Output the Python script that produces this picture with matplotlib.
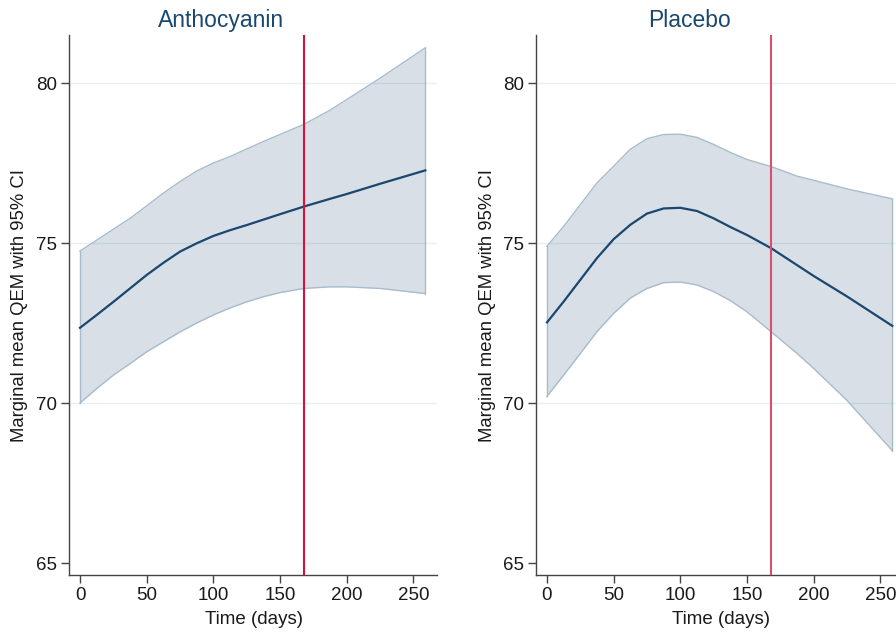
import matplotlib
matplotlib.use('Agg')
import matplotlib.pyplot as plt

plt.rcParams['font.family'] = ['Liberation Sans', 'DejaVu Sans']

days = [0, 12.5, 25, 37.5, 50, 62.5, 75, 87.5, 100, 112.5, 125, 137.5, 150, 168, 187.5, 200, 225, 259]

antho_mean = [72.35, 72.75, 73.16, 73.58, 74.00, 74.38, 74.73, 74.99, 75.22, 75.40, 75.56, 75.73, 75.90, 76.14, 76.38, 76.53, 76.85, 77.27]
antho_upper = [74.75, 75.09, 75.43, 75.77, 76.16, 76.56, 76.92, 77.25, 77.50, 77.70, 77.94, 78.17, 78.39, 78.71, 79.15, 79.48, 80.15, 81.10]
antho_lower = [70.00, 70.45, 70.87, 71.23, 71.60, 71.91, 72.22, 72.50, 72.75, 72.97, 73.16, 73.32, 73.45, 73.58, 73.63, 73.63, 73.58, 73.42]

placebo_mean = [72.52, 73.17, 73.85, 74.53, 75.12, 75.57, 75.92, 76.08, 76.10, 76.00, 75.77, 75.50, 75.25, 74.84, 74.31, 73.97, 73.33, 72.41]
placebo_upper = [74.90, 75.52, 76.20, 76.88, 77.40, 77.93, 78.26, 78.39, 78.40, 78.30, 78.08, 77.83, 77.61, 77.39, 77.09, 76.96, 76.69, 76.38]
placebo_lower = [70.21, 70.87, 71.55, 72.23, 72.80, 73.28, 73.58, 73.76, 73.78, 73.69, 73.48, 73.20, 72.85, 72.23, 71.55, 71.08, 70.08, 68.51]

cutoff_day = 168
x_ticks = [0, 50, 100, 150, 200, 250]
y_ticks = [65, 70, 75, 80]
grid_vals = [70, 75, 80]

NAVY = '#1a476f'
W, H = 896, 633


def draw_panel(ax, mean, lower, upper, title, title_x, ylab_x, red):
    for g in grid_vals:
        ax.axhline(g, color='#e6eff1', lw=1.0, zorder=0)
    ax.fill_between(days, lower, upper, color=NAVY, alpha=0.17, lw=0, zorder=1)
    ax.plot(days, upper, color='#a8bccb', lw=1.0, zorder=2)
    ax.plot(days, lower, color='#a8bccb', lw=1.0, zorder=2)
    ax.plot([days[0], days[0]], [lower[0], upper[0]], color='#a8bccb', lw=1.0, zorder=2)
    ax.plot([days[-1], days[-1]], [lower[-1], upper[-1]], color='#a8bccb', lw=1.0, zorder=2)
    ax.plot(days, mean, color=NAVY, lw=1.6, zorder=3)
    ax.axvline(cutoff_day, color=red, lw=1.5, zorder=4)

    ax.set_xlim(-8.25, 267.75)
    ax.set_ylim(64.625, 81.5)
    ax.set_xticks(x_ticks)
    ax.set_yticks(y_ticks)
    for side in ['top', 'right']:
        ax.spines[side].set_visible(False)
    for side in ['left', 'bottom']:
        ax.spines[side].set_color('#444444')
        ax.spines[side].set_linewidth(1.0)
    ax.tick_params(axis='both', direction='out', length=5.8, width=1.0,
                   color='#444444', labelsize=13.5, labelcolor='#1a1a1a', pad=3)
    ax.set_facecolor('white')

    fig.text(title_x / W, 1 - 27 / H, title, ha='center', va='baseline',
             fontsize=16.5, color=NAVY)
    fig.text(ylab_x / W, 1 - 306 / H, 'Marginal mean QEM with 95% CI',
             rotation=90, ha='center', va='center', fontsize=13.3, color='#1a1a1a')


fig = plt.figure(figsize=(W / 100, H / 100), dpi=100)
ax1 = fig.add_axes([69 / W, 58 / H, 368 / W, 540 / H])
ax2 = fig.add_axes([536 / W, 58 / H, 368 / W, 540 / H])

draw_panel(ax1, antho_mean, antho_lower, antho_upper, 'Anthocyanin', 221.5, 20, '#d8103a')
draw_panel(ax2, placebo_mean, placebo_lower, placebo_upper, 'Placebo', 689.5, 487, '#d94f6e')

fig.text(253.5 / W, 1 - 620 / H, 'Time (days)', ha='center', va='center', fontsize=13.5, color='#1a1a1a')
fig.text(720.5 / W, 1 - 620 / H, 'Time (days)', ha='center', va='center', fontsize=13.5, color='#1a1a1a')

fig.savefig('out.png', dpi=100)
